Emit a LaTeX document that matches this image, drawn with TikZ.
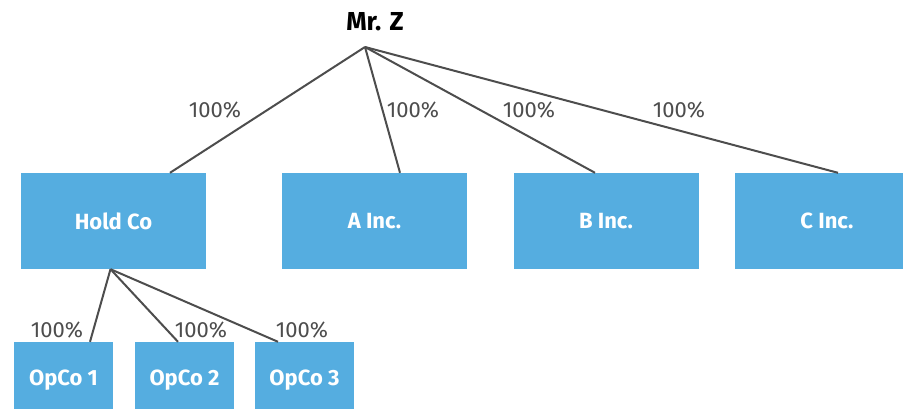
\documentclass[tikz,border=0pt]{standalone}
\usepackage{fontspec}
\setmainfont{Fira Sans}
\usetikzlibrary{calc}
\definecolor{boxblue}{HTML}{55ADE0}
\definecolor{linegray}{HTML}{4D4D4D}
\tikzset{
  entity/.style={fill=boxblue, text=white, inner sep=0pt, font=\fontsize{22}{26}\selectfont\bfseries},
  bigbox/.style={entity, minimum width=185pt, minimum height=96pt},
  smallbox/.style={entity, minimum width=99pt, minimum height=76pt},
  link/.style={draw=linegray, line width=2pt},
  pct/.style={text=linegray, inner sep=0pt, font=\fontsize{22}{26}\selectfont},
}
\begin{document}
\begin{tikzpicture}[x=1pt,y=-1pt]
\useasboundingbox (0,0) rectangle (903,409);
\clip (0,0) rectangle (903,409);
\node[font=\fontsize{26}{30}\selectfont\bfseries, inner sep=0pt] (mrz) at (375,22) {Mr. Z};
\coordinate (top) at (365,47);
\node[bigbox] (hold) at (113.5,221) {Hold Co};
\node[bigbox] (a) at (374.5,221) {A Inc.};
\node[bigbox] (b) at (606,221) {B Inc.};
\node[bigbox] (c) at (827,221) {C Inc.};
\node[smallbox] (o1) at (63.5,380) {OpCo 1};
\node[smallbox] (o2) at (184.5,380) {OpCo 2};
\node[smallbox] (o3) at (304.5,380) {OpCo 3};
\coordinate (hb) at ($(hold.south)+(-3,0)$);
\draw[link] (top) -- ($(hold.north)+(56.5,0)$);
\draw[link] (top) -- ($(a.north)+(25.5,0)$);
\draw[link] (top) -- ($(b.north)+(-11,0)$);
\draw[link] (top) -- ($(c.north)+(11,0)$);
\draw[link] (hb) -- ($(o1.north)+(26.5,0)$);
\draw[link] (hb) -- ($(o2.north)+(-6.5,0)$);
\draw[link] (hb) -- ($(o3.north)+(-26.5,0)$);
\node[pct] (p1) at (215,110) {100\%};
\node[pct] (p2) at (413,110) {100\%};
\node[pct] (p3) at (529,110) {100\%};
\node[pct] (p4) at (679,110) {100\%};
\node[pct] (p5) at (57,330) {100\%};
\node[pct] (p6) at (201,330) {100\%};
\node[pct] (p7) at (302,330) {100\%};
\end{tikzpicture}
\end{document}
